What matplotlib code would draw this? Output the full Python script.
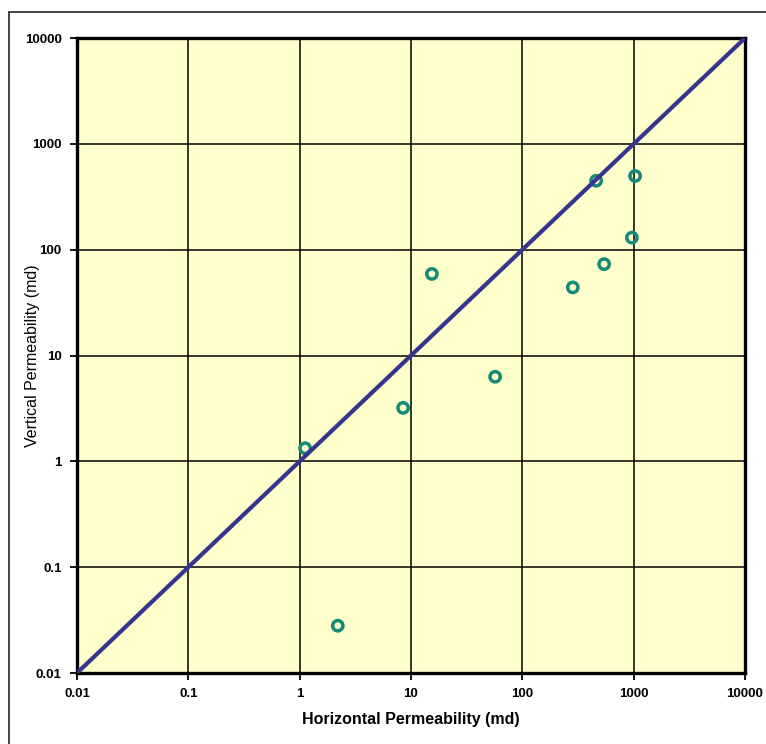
import matplotlib.pyplot as plt
from matplotlib.patches import Rectangle

# horizontal vs vertical core permeability, md
horiz_k = [1.12, 2.2, 8.5, 15.4, 57, 284, 543, 964, 460, 1030]
vert_k = [1.33, 0.028, 3.2, 59, 6.3, 44, 73, 130, 448, 497]

# 1:1 reference line endpoints
unity = [0.01, 10000]
decades = [0.01, 0.1, 1, 10, 100, 1000, 10000]
decade_labels = ["0.01", "0.1", "1", "10", "100", "1000", "10000"]

plt.rcParams["font.family"] = ["Liberation Sans", "DejaVu Sans"]

fig = plt.figure(figsize=(7.66, 7.44), dpi=100)
ax = fig.add_axes([0.1005, 0.0954, 0.8721, 0.8535])
ax.set_facecolor("#ffffcc")

ax.set_xscale("log")
ax.set_yscale("log")
ax.set_xlim(unity)
ax.set_ylim(unity)

ax.set_xticks(decades)
ax.set_xticklabels(decade_labels)
ax.set_yticks(decades)
ax.set_yticklabels(decade_labels)
ax.minorticks_off()
ax.tick_params(length=5, width=1.3, direction="out", labelsize=9.5, pad=6)
for lbl in ax.get_xticklabels() + ax.get_yticklabels():
    lbl.set_fontweight("bold")

ax.grid(True, color="black", linewidth=1.1)
ax.set_axisbelow(True)
for sp in ax.spines.values():
    sp.set_linewidth(2.4)

ax.scatter(horiz_k, vert_k, s=55, facecolors="none", edgecolors="#168a78",
           linewidths=2.5, zorder=3)
ax.plot(unity, unity, color="#37348f", linewidth=3, zorder=4,
        solid_capstyle="butt")

ax.set_xlabel("Horizontal Permeability (md)", fontsize=11.5, fontweight="bold")
ax.xaxis.set_label_coords(0.5, -0.062)
ax.set_ylabel("Vertical Permeability (md)", fontsize=11.5)
ax.yaxis.set_label_coords(-0.055, 0.5)

# outer chart frame
fig.patches.append(Rectangle((9 / 766, -0.05), 1.2, 1 - 12 / 744 + 0.05,
                             transform=fig.transFigure, fill=False,
                             edgecolor="#333333", linewidth=1.3))

fig.savefig("out.png", dpi=100)
